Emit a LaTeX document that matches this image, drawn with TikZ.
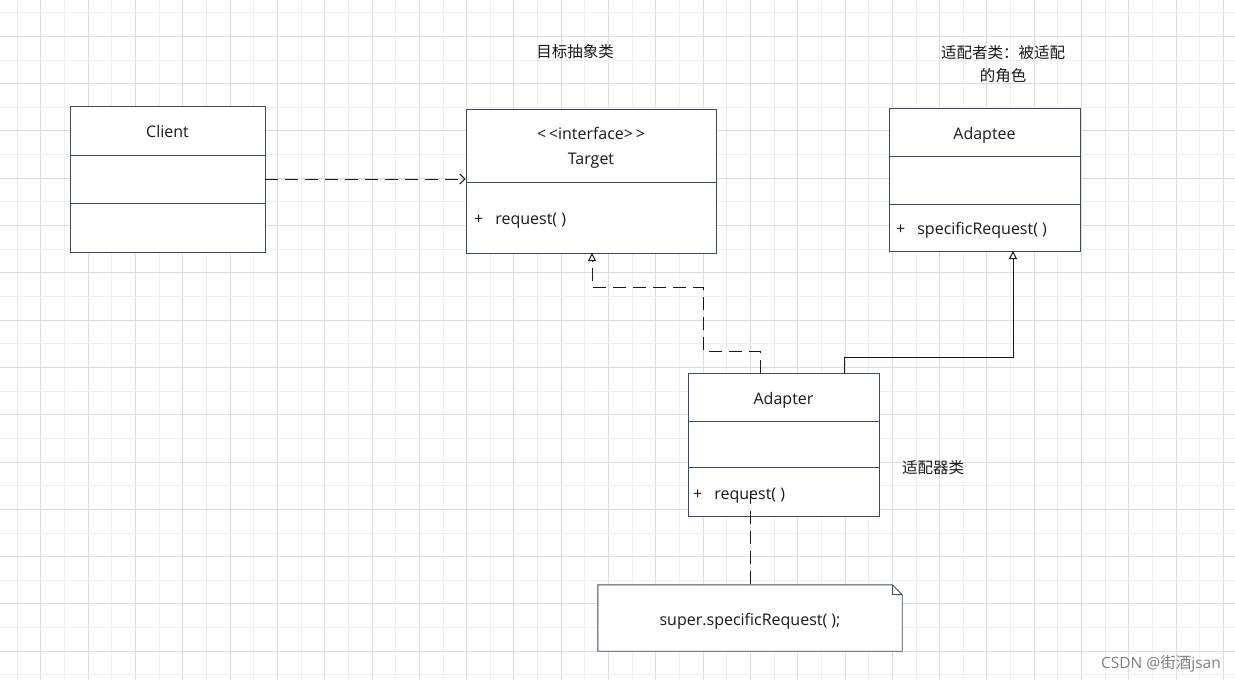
\documentclass[tikz,border=0pt]{standalone}
\usepackage{fontspec}
\setmainfont{Open Sans}
\newfontfamily\cjk{Noto Sans CJK SC}
\usepackage{xcolor}
\usetikzlibrary{arrows.meta, positioning, calc}
\definecolor{boxline}{RGB}{60,76,92}
\definecolor{gridlight}{RGB}{239,239,239}
\definecolor{griddark}{RGB}{220,220,220}
\tikzset{
  classbox/.style={draw=boxline, line width=0.9pt, fill=white, inner sep=0pt},
  divider/.style={draw=boxline, line width=0.9pt},
  txt/.style={font=\fontsize{16}{18}\selectfont, inner sep=0pt, anchor=base, text=black!90},
  cjktxt/.style={font=\cjk\fontsize{15.5}{23}\selectfont, inner sep=0pt, align=center, text=black!90},
  dep/.style={draw=black!90, line width=1pt, dash pattern=on 13pt off 7pt},
  realize/.style={dep, -{Triangle[open, length=8pt, width=8pt]}},
  inherit/.style={draw=black!90, line width=1pt, -{Triangle[open, length=8pt, width=8pt]}},
}

\begin{document}
\begin{tikzpicture}[x=1pt, y=-1pt]
  \useasboundingbox (0,0) rectangle (1235,680);
  \fill[white] (0,0) rectangle (1235,680);
  % grid
  \foreach \k in {0,...,51} {
    \pgfmathsetmacro\gx{17.3+23.65*\k}
    \ifodd\k \draw[griddark, line width=1pt] (\gx,0) -- (\gx,680);
    \else \draw[gridlight, line width=1pt] (\gx,0) -- (\gx,680); \fi
  }
  \foreach \k in {0,...,28} {
    \pgfmathsetmacro\gy{12.7+23.65*\k}
    \ifodd\k \draw[griddark, line width=1pt] (0,\gy) -- (1235,\gy);
    \else \draw[gridlight, line width=1pt] (0,\gy) -- (1235,\gy); \fi
  }

  % classes
  \node [classbox, minimum width=195pt, minimum height=146pt] (client) at (167.5,179) {};
  \node [classbox, minimum width=250pt, minimum height=144pt] (target) at (591,181) {};
  \node [classbox, minimum width=191pt, minimum height=143pt] (adaptee) at (984.5,179.5) {};
  \node [classbox, minimum width=191pt, minimum height=143pt] (adapter) at (783.5,444.5) {};
  \draw [divider] (client.west |- 0,155) -- (client.east |- 0,155);
  \draw [divider] (client.west |- 0,203) -- (client.east |- 0,203);
  \draw [divider] (target.west |- 0,182) -- (target.east |- 0,182);
  \draw [divider] (adaptee.west |- 0,156) -- (adaptee.east |- 0,156);
  \draw [divider] (adaptee.west |- 0,204) -- (adaptee.east |- 0,204);
  \draw [divider] (adapter.west |- 0,421) -- (adapter.east |- 0,421);
  \draw [divider] (adapter.west |- 0,467) -- (adapter.east |- 0,467);

  \node [txt] (clientname) at (167.5,137) {Client};
  \node [txt] (stereo) at (591,139) {<\,<interface>\,>};
  \node [txt] (targetname) at (591,164) {Target};
  \node [txt, anchor=base west] (targetop) at (474,224) {+\hspace{12pt}request( )};
  \node [txt] (adapteename) at (984.5,139) {Adaptee};
  \node [txt, anchor=base west] (adapteeop) at (896,234) {+\hspace{12pt}specificRequest( )};
  \node [txt] (adaptername) at (783.5,404) {Adapter};
  \node [txt, anchor=base west] (adapterop) at (693,499) {+\hspace{12pt}request( )};

  % note
  \node [minimum width=304pt, minimum height=66pt, inner sep=0pt] (note) at (750,618) {};
  \draw [divider, fill=white] (note.south west) -- (note.north west) -- ($(note.north east)+(-10,0)$)
    -- ($(note.north east)+(0,10)$) -- (note.south east) -- cycle;
  \draw [divider] ($(note.north east)+(-10,0)$) -- ($(note.north east)+(-10,10)$) -- ($(note.north east)+(0,10)$);
  \node [txt] (notetext) at (750,625) {super.specificRequest( );};

  % labels
  \node [cjktxt] (targetlabel) at (575,52) {目标抽象类};
  \node [cjktxt] (adapteelabel) at (1003,64) {适配者类：被适配\\的角色};
  \node [cjktxt] (adapterlabel) at (933,468) {适配器类};
  \node [txt, anchor=base east, text=black!50, font=\fontsize{15.5}{18}\selectfont] (mark) at (1221,668) {CSDN @{\cjk 街酒}jsan};

  % connectors
  \coordinate (a1) at (760,373);
  \coordinate (a2) at (844,373);
  \coordinate (a3) at (750,491);
  \coordinate (t1) at (592,253);
  \coordinate (e1) at (1013,251);
  \draw [dep, -{Straight Barb[length=5pt, width=10pt]}] (client.east) -- (client.east -| target.west);
  \draw [realize] (a1) |- (703,351) |- (592,287) -- (t1);
  \draw [inherit] (a2) -- ++(0,-16) -| (e1);
  \draw [dep] (a3) -- (note.north);
\end{tikzpicture}
\end{document}
